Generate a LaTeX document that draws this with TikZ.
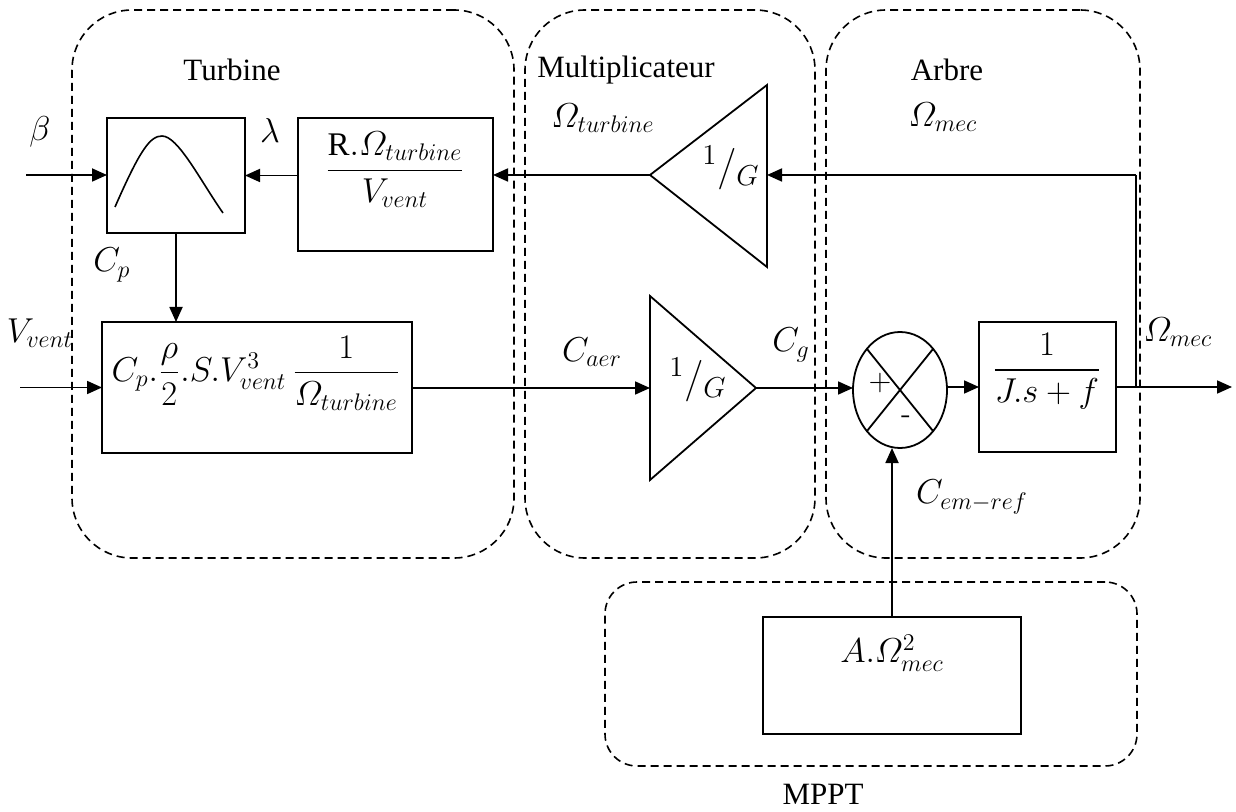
\documentclass[tikz,border=0pt]{standalone}
\usepackage{amsmath}
\usepackage{fontspec}
\setmainfont{Liberation Serif}
\usetikzlibrary{arrows.meta,shapes.geometric,calc}
\begin{document}
\begin{tikzpicture}[x=0.5pt,y=-0.5pt,
  blk/.style={draw, line width=1pt, inner sep=0pt, outer sep=0pt},
  region/.style={draw, dash pattern=on 4pt off 2.5pt, line width=0.8pt, rounded corners=30pt, inner sep=0pt, outer sep=0pt},
  conn/.style={line width=0.9pt},
  arr/.style={conn, -{Triangle[length=7.5pt,width=6.5pt]}},
  lbl/.style={inner sep=0pt, font=\fontsize{15.5}{18}\selectfont},
  mlbl/.style={inner sep=0pt, font=\fontsize{16.5}{19}\selectfont},
  gain/.style={inner sep=0pt, font=\fontsize{20}{23}\selectfont}
]
\useasboundingbox (0,0) rectangle (1236,812);

% dashed regions
\node[region, minimum width=221pt, minimum height=274pt] (rturb) at (293,284) {};
\node[region, minimum width=145pt, minimum height=274pt] (rmult) at (670,284) {};
\node[region, minimum width=157pt, minimum height=274pt] (rarb) at (983,284) {};
\node[region, rounded corners=16pt, minimum width=266pt, minimum height=92pt] (rmppt) at (871,674) {};

\node[lbl] (tturb) at (232,70) {Turbine};
\node[lbl] (tmult) at (626,70) {Multiplicateur};
\node[lbl] (tarb) at (947,70) {Arbre};
\node[lbl] (tmppt) at (823,794) {MPPT};

% blocks
\node[blk, minimum width=69pt, minimum height=57.5pt] (cp) at (176,175.5) {};
\draw[line width=0.8pt] (115,207) .. controls (140,150) and (150,136) .. (162,136)
   .. controls (178,136) and (200,180) .. (223,213);
\node[blk, minimum width=97.5pt, minimum height=66.5pt] (rb) at (395.5,184.5) {};
\node[mlbl] (rbt) at (395,170) {$\dfrac{\mathrm{R}.\varOmega_{turbine}}{V_{vent}}$};
\node[blk, minimum width=155pt, minimum height=65.5pt] (big) at (257,387.5) {};
\node[mlbl] (bigt) at (256,373) {$C_p.\dfrac{\rho}{2}.S.V_{vent}^{3}\,\dfrac{1}{\varOmega_{turbine}}$};
\node[blk, minimum width=68.5pt, minimum height=65pt] (tf) at (1047.5,387) {};
\node[mlbl] (tft) at (1047,371) {$\dfrac{1}{J.s+f}$};
\node[blk, minimum width=129pt, minimum height=58.5pt] (mp) at (892,675.5) {};
\node[mlbl] (mpt) at (892,653) {$A.\varOmega_{mec}^{2}$};

% summing junction
\node[draw, ellipse, line width=0.9pt, inner sep=0pt, outer sep=0pt, minimum width=47pt, minimum height=58pt] (sum) at (900,390) {};
\draw[line width=0.9pt] ($(sum.center)+(-33,-41)$) -- ($(sum.center)+(33,41)$);
\draw[line width=0.9pt] ($(sum.center)+(33,-41)$) -- ($(sum.center)+(-33,41)$);
\node[inner sep=0pt, font=\sffamily\fontsize{15}{18}\selectfont] (plus) at (880,383) {+};
\node[inner sep=0pt, font=\sffamily\fontsize{15}{18}\selectfont] (minus) at (906,420) {-};

% gains (triangles)
\coordinate (t1a) at (650,175);
\coordinate (t1b) at (767,175);
\draw[line width=0.9pt] (t1a) -- (767,85) -- (767,267) -- cycle;
\node[gain] (g1) at (731,168) {$^{1}/_{G}$};
\coordinate (t2a) at (756,388);
\coordinate (t2b) at (650,388);
\draw[line width=0.9pt] (t2a) -- (650,296) -- (650,480) -- cycle;
\node[gain] (g2) at (698,380) {$^{1}/_{G}$};

% coordinates for free ends
\coordinate (betain) at (26,175);
\coordinate (vin) at (20,387.5);
\coordinate (out) at (1232,387);
\coordinate (br) at (1136,387);
\coordinate (brt) at (1136,175);

% connectors
\draw[arr] (betain) -- (cp.west |- betain);
\draw[arr] (rb.west |- cp.east) -- (cp.east);
\draw[arr] (t1a) -- (rb.east |- t1a);
\draw[arr] (brt) -- (t1b);
\draw[conn] (br) -- (brt);
\draw[arr] (cp.south) -- (cp.south |- big.north);
\draw[arr] (vin) -- (big.west);
\draw[arr] (big.east |- t2b) -- (t2b);
\draw[arr] (t2a) -- (sum.west |- t2a);
\draw[arr] (sum.east |- tf.west) -- (tf.west);
\draw[arr] (tf.east) -- (out);
\draw[arr] (mp.north) -- (mp.north |- sum.south);

% labels
\node[mlbl] (lbeta) at (40,132) {$\beta$};
\node[mlbl] (llam) at (270,131) {$\lambda$};
\node[mlbl] (lcp) at (112,265) {$C_p$};
\node[mlbl] (lv) at (40,333) {$V_{vent}$};
\node[mlbl] (lot) at (603,118) {$\varOmega_{turbine}$};
\node[mlbl] (lom) at (943,117) {$\varOmega_{mec}$};
\node[mlbl] (lom2) at (1178,332) {$\varOmega_{mec}$};
\node[mlbl] (lcaer) at (592,352) {$C_{aer}$};
\node[mlbl] (lcg) at (791,345) {$C_g$};
\node[mlbl] (lcem) at (972,497) {$C_{em-ref}$};
\end{tikzpicture}
\end{document}
